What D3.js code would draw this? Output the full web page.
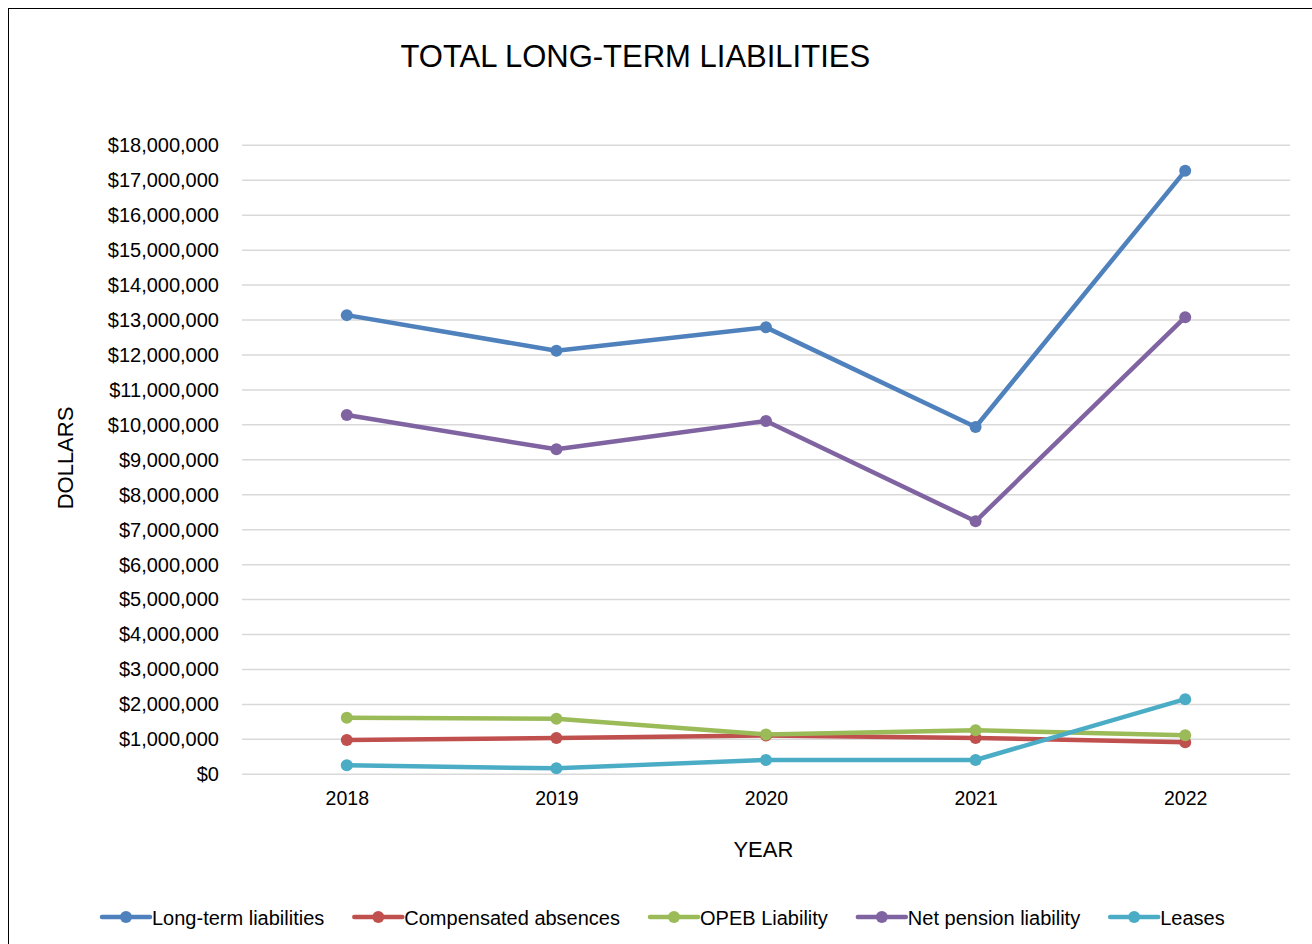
<!DOCTYPE html>
<html>
<head>
<meta charset="utf-8">
<script src="https://cdn.jsdelivr.net/npm/d3@7/dist/d3.min.js"></script>
<style>
  html, body { margin: 0; padding: 0; background: #fff; }
  svg { display: block; font-family: "Liberation Sans", Arial, sans-serif; }
</style>
</head>
<body>
<svg id="chart" width="1312" height="944"></svg>
<script>
// Years on the category axis
const years = ["2018", "2019", "2020", "2021", "2022"];

// Series values in dollars
const longTermLiabilities   = [13140000, 12120000, 12790000, 9940000, 17270000];
const compensatedAbsences   = [980000, 1040000, 1110000, 1040000, 920000];
const opebLiability         = [1620000, 1590000, 1140000, 1260000, 1120000];
const netPensionLiability   = [10280000, 9300000, 10110000, 7240000, 13080000];
const leases                = [260000, 170000, 410000, 410000, 2150000];

const seriesNames  = ["Long-term liabilities", "Compensated absences", "OPEB Liability", "Net pension liability", "Leases"];
const seriesValues = [longTermLiabilities, compensatedAbsences, opebLiability, netPensionLiability, leases];
const seriesColors = ["#4F81BD", "#C0504D", "#9BBB59", "#8064A2", "#4BACC6"];

// Value axis ticks
const yTicks = d3.range(0, 18000001, 1000000);

const svg = d3.select("#chart");

// Outer chart border
svg.append("rect")
  .attr("x", 8.5).attr("y", 8.5)
  .attr("width", 1400).attr("height", 1000)
  .attr("fill", "none").attr("stroke", "#000").attr("stroke-width", 1);

const plot = { left: 242, right: 1290, top: 145.3, bottom: 774.3 };

const x = d3.scalePoint().domain(years).range([plot.left, plot.right]).padding(0.5);
const y = d3.scaleLinear().domain([0, 18000000]).range([plot.bottom, plot.top]);

// Horizontal gridlines
svg.append("g").selectAll("line").data(yTicks).join("line")
  .attr("x1", plot.left).attr("x2", plot.right)
  .attr("y1", d => y(d)).attr("y2", d => y(d))
  .attr("stroke", "#d9d9d9").attr("stroke-width", 1.5);

// Y axis labels
const yAxis = d3.axisLeft(y).tickValues(yTicks)
  .tickFormat(d => "$" + d3.format(",")(d)).tickSize(0).tickPadding(0);
const gy = svg.append("g").attr("transform", `translate(219,0)`).call(yAxis);
gy.select(".domain").remove();
gy.selectAll("text")
  .attr("font-size", "20px").attr("fill", "#000")
  .attr("font-family", "'Liberation Sans', Arial, sans-serif");

// X axis labels
const xAxis = d3.axisBottom(x).tickSize(0).tickPadding(0);
const gx = svg.append("g").attr("transform", `translate(0,${plot.bottom})`).call(xAxis);
gx.select(".domain").remove();
gx.selectAll("text")
  .attr("dy", null).attr("y", 31)
  .attr("font-size", "19.5px").attr("fill", "#000")
  .attr("font-family", "'Liberation Sans', Arial, sans-serif");

// Series lines and markers
const line = d3.line().x((d, i) => x(years[i])).y(d => y(d));
seriesValues.forEach((vals, si) => {
  svg.append("path")
    .datum(vals)
    .attr("d", line)
    .attr("fill", "none")
    .attr("stroke", seriesColors[si])
    .attr("stroke-width", 4.5)
    .attr("stroke-linejoin", "round")
    .attr("stroke-linecap", "round");
});
seriesValues.forEach((vals, si) => {
  svg.append("g").selectAll("circle").data(vals).join("circle")
    .attr("cx", (d, i) => x(years[i]))
    .attr("cy", d => y(d))
    .attr("r", 6)
    .attr("fill", seriesColors[si]);
});

// Titles
svg.append("text")
  .attr("x", 635.3).attr("y", 66.7)
  .attr("text-anchor", "middle")
  .attr("font-size", "31px").attr("fill", "#000")
  .text("TOTAL LONG-TERM LIABILITIES");

svg.append("text")
  .attr("x", 763.4).attr("y", 857)
  .attr("text-anchor", "middle")
  .attr("font-size", "22px").attr("fill", "#000")
  .text("YEAR");

svg.append("text")
  .attr("transform", "translate(73.3,458) rotate(-90)")
  .attr("text-anchor", "middle")
  .attr("font-size", "22px").attr("fill", "#000")
  .text("DOLLARS");

// Legend
const legend = svg.append("g");
let lx = 102;
const ly = 917;
seriesNames.forEach((name, si) => {
  const g = legend.append("g");
  g.append("line")
    .attr("x1", lx).attr("x2", lx + 48)
    .attr("y1", ly).attr("y2", ly)
    .attr("stroke", seriesColors[si]).attr("stroke-width", 4.5)
    .attr("stroke-linecap", "round");
  g.append("circle")
    .attr("cx", lx + 24).attr("cy", ly).attr("r", 6)
    .attr("fill", seriesColors[si]);
  const t = g.append("text")
    .attr("x", lx + 50).attr("y", ly + 8)
    .attr("font-size", "20px").attr("fill", "#000")
    .text(name);
  lx += 50 + t.node().getComputedTextLength() + 30;
});
</script>
</body>
</html>
